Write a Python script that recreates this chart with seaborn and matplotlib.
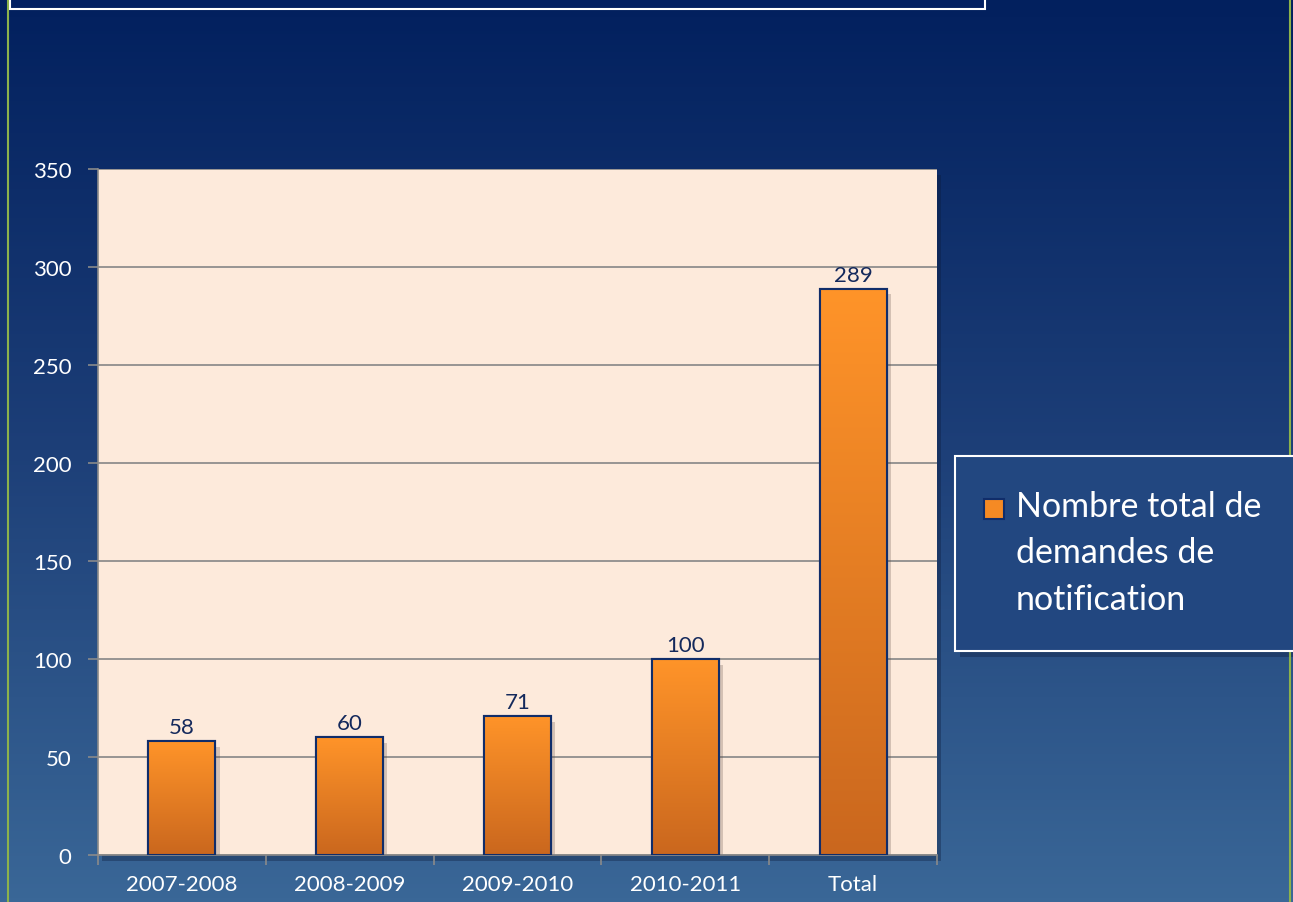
import numpy as np
import matplotlib
matplotlib.use("Agg")
import matplotlib.pyplot as plt
from matplotlib.colors import LinearSegmentedColormap
from matplotlib.patches import Rectangle
import seaborn as sns

periods = ["2007-2008", "2008-2009", "2009-2010", "2010-2011", "Total"]
demandes = [58, 60, 71, 100, 289]
legend_label = "Nombre total de\ndemandes de\nnotification"

sns.set_theme(style="white")
plt.rcParams["font.family"] = ["Lato", "DejaVu Sans"]

W, H = 1293, 903
fig = plt.figure(figsize=(W / 100, H / 100), dpi=100)

# slide background gradient
bg = fig.add_axes([0, 0, 1, 1], zorder=-10)
bg_cmap = LinearSegmentedColormap.from_list("bg", ["#02205e", "#1d3f78", "#3a6797"])
bg.imshow(np.linspace(0, 1, 256).reshape(-1, 1), aspect="auto", cmap=bg_cmap,
          extent=[0, 1, 0, 1])
bg.set_xlim(0, 1)
bg.set_ylim(0, 1)
bg.axis("off")

# green slide border
for x in (8, 1290):
    bg.plot([x / W, x / W], [0, 1], color="#8cb24c", lw=1.5)

# cut off title box at the top
bg.add_patch(Rectangle((10 / W, 1 - 10 / H), 975 / W, 20 / H, facecolor="#022062",
                       edgecolor="white", lw=1.5))

# plot area
ax = fig.add_axes([98 / W, (H - 856) / H, (937 - 98) / W, (856 - 170) / H])
ax.set_facecolor("#fdeadb")
# plot area shadow
bg.add_patch(Rectangle((102 / W, (H - 862) / H), (937 - 98) / W, (856 - 170) / H,
                       facecolor="#0b1a3a", alpha=0.35, edgecolor="none", zorder=1))

sns.barplot(x=periods, y=demandes, ax=ax, color="#f58a24", width=0.4,
            edgecolor="#102d6a", linewidth=1.5, zorder=3)

bar_cmap = LinearSegmentedColormap.from_list("bar", ["#ca671e", "#ff9429"])
grad = np.linspace(0, 1, 256).reshape(-1, 1)
for p in ax.patches:
    x0, w, h = p.get_x(), p.get_width(), p.get_height()
    # bar shadow
    ax.add_patch(Rectangle((x0 + 0.025, 0), w, h - 3, facecolor="#5a4a40",
                           alpha=0.25, edgecolor="none", zorder=2))
    im = ax.imshow(grad, aspect="auto", cmap=bar_cmap, origin="lower",
                   extent=[x0, x0 + w, 0, h], zorder=3.5)
    im.set_clip_path(p)
    ax.add_patch(Rectangle((x0, 0), w, h, fill=False, edgecolor="#102d6a",
                           lw=1.5, zorder=4))

for i, v in enumerate(demandes):
    ax.text(i, v + 2, str(v), ha="center", va="bottom", fontsize=16,
            color="#14295c", zorder=5)

ax.set_xlim(-0.5, len(periods) - 0.5)
ax.set_ylim(0, 350)
ax.set_yticks(range(0, 351, 50))
ax.yaxis.grid(True, color="#868686", lw=1.2)
ax.set_axisbelow(True)
ax.set_xticks(np.arange(len(periods)))
ax.set_xticklabels(periods)
ax.set_xticks(np.arange(-0.5, len(periods)), minor=True)
ax.tick_params(axis="x", which="major", length=0, pad=14, labelsize=16, colors="white")
ax.tick_params(axis="x", which="minor", length=7, width=1.2, color="#8a8a8a", direction="out",
               bottom=True)
ax.tick_params(axis="y", length=7, width=1.2, color="#8a8a8a", direction="out", left=True,
               labelsize=16, labelcolor="white", pad=12)
for s in ("top", "right"):
    ax.spines[s].set_visible(False)
for s in ("left", "bottom"):
    ax.spines[s].set_color("#8a8a8a")
    ax.spines[s].set_linewidth(1.2)
ax.set_xlabel("")
ax.set_ylabel("")

# legend box
lx0, ly0, lx1, ly1 = 955, 457, 1300, 652
bg.add_patch(Rectangle((lx0 / W + 0.004, 1 - ly1 / H - 0.007), (lx1 - lx0) / W, (ly1 - ly0) / H,
                       facecolor="#0b1a3a", alpha=0.35, edgecolor="none", zorder=1))
bg.add_patch(Rectangle((lx0 / W, 1 - ly1 / H), (lx1 - lx0) / W, (ly1 - ly0) / H,
                       facecolor="#224780", edgecolor="white", lw=1.5, zorder=2))
bg.add_patch(Rectangle((984 / W, 1 - 520 / H), 20 / W, 20 / H, facecolor="#f58a24",
                       edgecolor="#102d6a", lw=1.5, zorder=3))
fig.text(1016 / W, 1 - 491 / H, legend_label, ha="left", va="top", fontsize=24.5,
         color="white", linespacing=1.55)

fig.savefig("out.png", dpi=100)
